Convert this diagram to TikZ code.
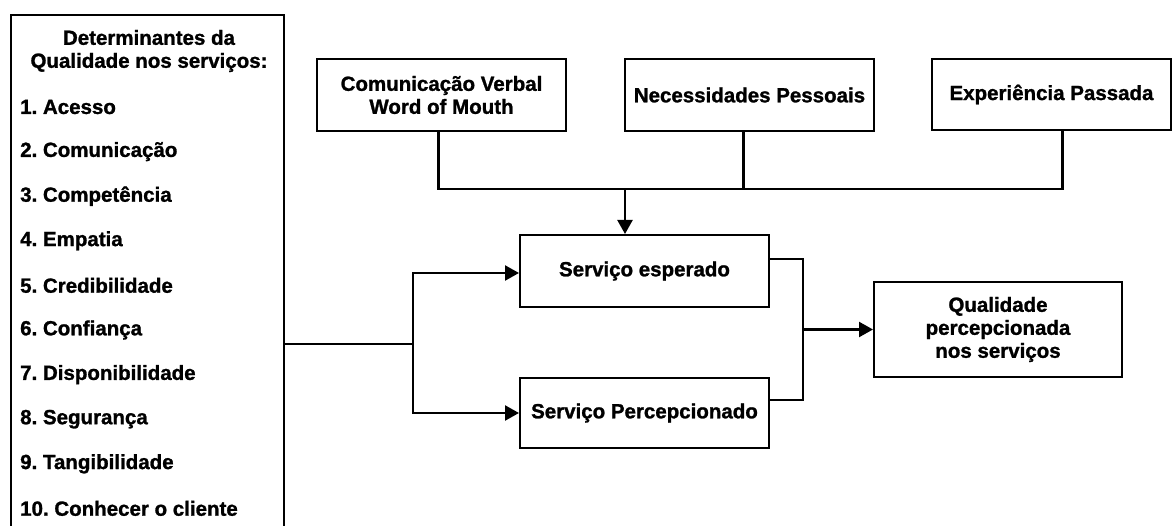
\documentclass[tikz,border=0pt]{standalone}
\usepackage{fontspec}
\setmainfont{Liberation Sans}[BoldFeatures={FakeBold=1.2}]
\usetikzlibrary{arrows.meta}
\frenchspacing
\begin{document}
\begin{tikzpicture}[x=1pt,y=-1pt,
  txt/.style={font=\bfseries\fontsize{20.5}{23}\selectfont},
  box/.style={draw,line width=2pt,inner sep=0pt,align=center,txt},
  link/.style={line width=2.3pt},
  arr/.style={link,-{Triangle[length=14pt,width=15pt]}},
  item/.style={anchor=west,inner sep=0pt,txt}]
\useasboundingbox[fill=white] (0,0) rectangle (1173,526);

% determinants panel (runs past the lower edge)
\node[box,minimum width=273pt,minimum height=530pt] (det) at (147.5,280) {};
\node[txt,align=center,inner sep=0pt] (title) at (149,51) {Determinantes da\\Qualidade nos serviços:};
\foreach \t [count=\i] in {Acesso,Comunicação,Competência,Empatia,Credibilidade,Confiança,Disponibilidade,Segurança,Tangibilidade,Conhecer o cliente}
  \node[item] (t\i) at (20,{107+44.6*(\i-1)}) {\i. \t};

% expectation sources
\node[box,minimum width=249pt,minimum height=72pt] (com) at (441.5,95) {Comunicação Verbal\\Word of Mouth};
\node[box,minimum width=249pt,minimum height=72pt] (nec) at (749.5,95) {Necessidades Pessoais};
\node[box,minimum width=239pt,minimum height=71pt] (exp) at (1051.5,94.5) {Experiência Passada};

% services and resulting quality
\node[box,minimum width=249pt,minimum height=72pt] (esp) at (644.5,271) {Serviço esperado};
\node[box,minimum width=249pt,minimum height=70pt] (per) at (644.5,413) {Serviço Percepcionado};
\node[box,minimum width=248pt,minimum height=95pt] (qual) at (998,329.5) {Qualidade\\percepcionada\\nos serviços};

% junction points
\coordinate (m) at (625,189);
\coordinate (s) at (413,344);
\coordinate (r) at (803,329.5);

% sources merge into expected service
\draw[link] ([xshift=-3pt]com.south) |- ([xshift=11pt]exp.south |- m) -- ([xshift=11pt]exp.south);
\draw[link] ([xshift=-6pt]nec.south) -- ([xshift=-6pt]nec.south |- m);
\draw[arr] (m) -- (m |- esp.north);

% determinants feed both services
\draw[link] (det.east |- s) -- (s);
\draw[arr] (s) |- ([yshift=-2pt]esp.west);
\draw[arr] (s) |- (per.west);

% comparison gives perceived quality
\draw[link] ([yshift=12pt]esp.east) -| (r);
\draw[link] ([yshift=13pt]per.east) -| (r);
\draw[arr] (r) -- (qual.west);
\end{tikzpicture}
\end{document}
